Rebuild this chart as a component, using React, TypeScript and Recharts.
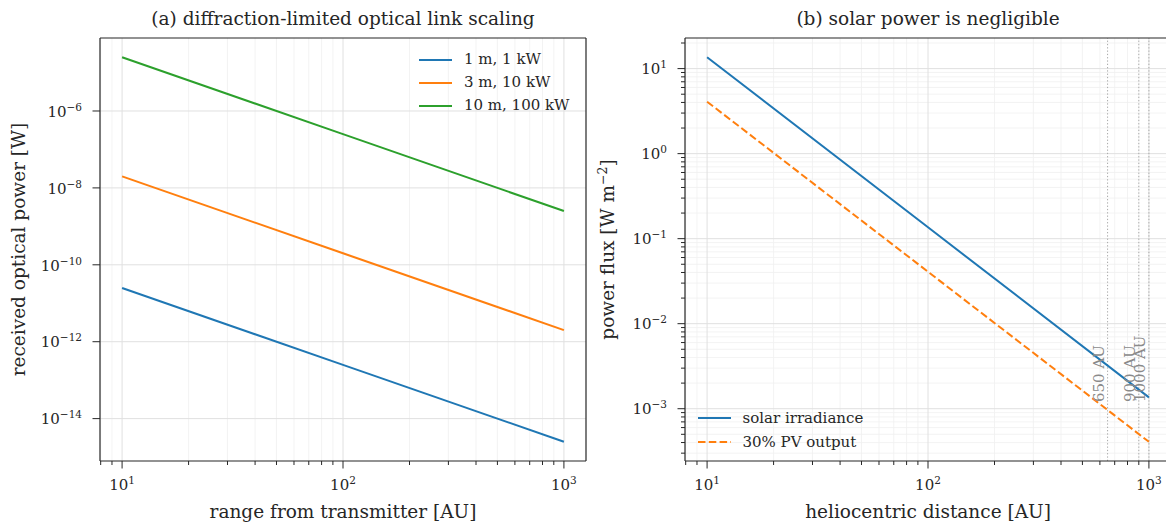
import React from 'react';
import { LineChart, Line, XAxis, YAxis, ReferenceLine, ReferenceDot, Legend, Label } from 'recharts';

const FONT = '"DejaVu Serif", serif';
const INK = '#262626';
const GRID_MAJOR = '#e0e0e0';
const GRID_MINOR = '#f0f0f0';

// ---------- panel (a): diffraction-limited optical link ----------
const linkRangeAU = [10, 100, 1000];
const link1m1kW = [2.5e-11, 2.5e-13, 2.5e-15];
const link3m10kW = [2.0e-8, 2.0e-10, 2.0e-12];
const link10m100kW = [2.5e-5, 2.5e-7, 2.5e-9];

// ---------- panel (b): solar power ----------
const helioAU = [10, 100, 1000];
const solarIrradiance = [13.6, 0.136, 0.00136];
const pvOutput = [4.08, 0.0408, 0.000408];

const markerAU = [650, 900, 1000];
const markerLabels = ['650 AU', '900 AU', '1000 AU'];
const markerLabelY = 1.2e-3;

// ---------- ticks ----------
const xMajorTicks = [10, 100, 1000];
const xMinorTicks = [8, 9, 20, 30, 40, 50, 60, 70, 80, 90, 200, 300, 400, 500, 600, 700, 800, 900];
const leftYMajorTicks = [1e-14, 1e-12, 1e-10, 1e-8, 1e-6];
const rightYMajorTicks = [1e-3, 1e-2, 1e-1, 1, 10];
const rightYMinorTicks = [
  3e-4, 4e-4, 5e-4, 6e-4, 7e-4, 8e-4, 9e-4,
  2e-3, 3e-3, 4e-3, 5e-3, 6e-3, 7e-3, 8e-3, 9e-3,
  2e-2, 3e-2, 4e-2, 5e-2, 6e-2, 7e-2, 8e-2, 9e-2,
  2e-1, 3e-1, 4e-1, 5e-1, 6e-1, 7e-1, 8e-1, 9e-1,
  2, 3, 4, 5, 6, 7, 8, 9, 20,
];

const linkSeries = [
  { key: 'p1', name: '1 m, 1 kW', color: '#1f77b4', dash: undefined as string | undefined },
  { key: 'p3', name: '3 m, 10 kW', color: '#ff7f0e', dash: undefined as string | undefined },
  { key: 'p10', name: '10 m, 100 kW', color: '#2ca02c', dash: undefined as string | undefined },
];
const solarSeries = [
  { key: 'solar', name: 'solar irradiance', color: '#1f77b4', dash: undefined as string | undefined },
  { key: 'pv', name: '30% PV output', color: '#ff7f0e', dash: '7.5 3.3' as string | undefined },
];

const linkData = linkRangeAU.map((r, i) => ({ r, p1: link1m1kW[i], p3: link3m10kW[i], p10: link10m100kW[i] }));
const solarData = helioAU.map((r, i) => ({ r, solar: solarIrradiance[i], pv: pvOutput[i] }));

const X_DOMAIN: [number, number] = [Math.pow(10, 0.9), Math.pow(10, 3.1)];
const LEFT_Y_DOMAIN: [number, number] = [Math.pow(10, -15.102), Math.pow(10, -4.102)];
const RIGHT_Y_DOMAIN: [number, number] = [Math.pow(10, -3.615), Math.pow(10, 1.36)];

function isDecade(v: number) {
  const lg = Math.log10(v);
  return Math.abs(lg - Math.round(lg)) < 1e-6;
}
function expText(v: number) {
  const e = Math.round(Math.log10(v));
  return e < 0 ? '\u2212' + String(-e) : String(e);
}

function XLogTick(props: any) {
  const { x, y, payload } = props;
  const v = payload.value;
  const major = isDecade(v);
  return (
    <g>
      <line x1={x} x2={x} y1={y} y2={y + (major ? 7.5 : 4)} stroke={INK} strokeWidth={1} />
      {major && (
        <text x={x} y={y + 29} textAnchor="middle" fontFamily={FONT} fontSize={15} fill={INK}>
          10<tspan dy={-6} fontSize={10.5}>{expText(v)}</tspan>
        </text>
      )}
    </g>
  );
}

function YLogTick(props: any) {
  const { x, y, payload } = props;
  const v = payload.value;
  const major = isDecade(v);
  return (
    <g>
      <line x1={x - (major ? 7.5 : 4)} x2={x} y1={y} y2={y} stroke={INK} strokeWidth={1} />
      {major && (
        <text x={x - 18} y={y + 5.7} textAnchor="end" fontFamily={FONT} fontSize={15} fill={INK}>
          10<tspan dy={-6} fontSize={10.5}>{expText(v)}</tspan>
        </text>
      )}
    </g>
  );
}

type Item = { name: string; color: string; dash?: string };
function LegendBox({ items, rowH }: { items: Item[]; rowH: number }) {
  return (
    <div style={{ fontFamily: FONT, fontSize: 15, color: INK }}>
      {items.map((it) => (
        <div key={it.name} style={{ display: 'flex', alignItems: 'center', height: rowH }}>
          <svg width={33} height={10} style={{ display: 'block' }}>
            <line x1={0} x2={33} y1={5} y2={5} stroke={it.color} strokeWidth={2} strokeDasharray={it.dash} />
          </svg>
          <span style={{ marginLeft: 12, whiteSpace: 'nowrap', lineHeight: 1 }}>{it.name}</span>
        </div>
      ))}
    </div>
  );
}

const titleContent = (text: string) => (props: any) => {
  const vb = props.viewBox;
  return (
    <text x={vb.x + vb.width / 2} y={vb.y - 13} textAnchor="middle" fontFamily={FONT} fontSize={18.5} fill={INK}>
      {text}
    </text>
  );
};
const xLabelContent = (text: string) => (props: any) => {
  const vb = props.viewBox;
  return (
    <text x={vb.x + vb.width / 2} y={vb.y + 57} textAnchor="middle" fontFamily={FONT} fontSize={18.5} fill={INK}>
      {text}
    </text>
  );
};
const yLabelContent = (node: React.ReactNode, baseX: number) => (props: any) => {
  const vb = props.viewBox;
  const cx = vb.x + baseX;
  const cy = vb.y + vb.height / 2;
  return (
    <text x={cx} y={cy} transform={`rotate(-90 ${cx} ${cy})`} textAnchor="middle" fontFamily={FONT} fontSize={18.5} fill={INK}>
      {node}
    </text>
  );
};

function gridLines(xMinor: number[], xMajor: number[], yMinor: number[], yMajor: number[]) {
  const out: React.ReactNode[] = [];
  xMinor.forEach((v) => out.push(<ReferenceLine key={'xm' + v} x={v} stroke={GRID_MINOR} strokeWidth={0.8} />));
  yMinor.forEach((v) => out.push(<ReferenceLine key={'ym' + v} y={v} stroke={GRID_MINOR} strokeWidth={0.8} />));
  xMajor.forEach((v) => out.push(<ReferenceLine key={'xM' + v} x={v} stroke={GRID_MAJOR} strokeWidth={1} />));
  yMajor.forEach((v) => out.push(<ReferenceLine key={'yM' + v} y={v} stroke={GRID_MAJOR} strokeWidth={1} />));
  return out;
}

function spines(xDom: [number, number], yDom: [number, number], title: string) {
  return [
    <ReferenceLine key="spTop" y={yDom[1]} ifOverflow="visible" stroke={INK} strokeWidth={1.2}
      label={titleContent(title)} />,
    <ReferenceLine key="spRight" x={xDom[1]} ifOverflow="visible" stroke={INK} strokeWidth={1.2} />,
  ];
}

const axisLineStyle = { stroke: INK, strokeWidth: 1.2 };

export default function App() {
  return (
    <div style={{ position: 'absolute', left: 0, top: 0, width: 1166, height: 523, overflow: 'hidden', background: '#fff' }}>
      <div style={{ position: 'absolute', left: 0, top: 0 }}>
        <LineChart width={600} height={523} data={linkData} margin={{ top: 38, right: 14, bottom: 0, left: 0 }}>
          <XAxis
            dataKey="r" type="number" scale="log" domain={X_DOMAIN} allowDataOverflow
            ticks={[...xMinorTicks, ...xMajorTicks]} interval={0} tick={<XLogTick />}
            tickLine={false} tickSize={0} tickMargin={0} height={62} axisLine={axisLineStyle}
          >
            <Label content={xLabelContent('range from transmitter [AU]')} />
          </XAxis>
          <YAxis
            type="number" scale="log" domain={LEFT_Y_DOMAIN} allowDataOverflow
            ticks={leftYMajorTicks} interval={0} tick={<YLogTick />}
            tickLine={false} tickSize={0} tickMargin={0} width={100} axisLine={axisLineStyle}
          >
            <Label content={yLabelContent('received optical power [W]', 25)} />
          </YAxis>
          {gridLines(xMinorTicks, xMajorTicks, [], leftYMajorTicks)}
          {spines(X_DOMAIN, LEFT_Y_DOMAIN, '(a) diffraction-limited optical link scaling')}
          {linkSeries.map((s) => (
            <Line key={s.key} type="linear" dataKey={s.key} name={s.name} stroke={s.color} strokeWidth={2}
              dot={false} activeDot={false} isAnimationActive={false} />
          ))}
          <Legend
            layout="vertical" align="center" verticalAlign="middle"
            wrapperStyle={{ left: 419, top: 48, right: 'auto', bottom: 'auto', width: 'auto' }}
            content={() => <LegendBox items={linkSeries} rowH={23} />}
          />
        </LineChart>
      </div>

      <div style={{ position: 'absolute', left: 590, top: 0 }}>
        <LineChart width={610} height={523} data={solarData} margin={{ top: 38, right: 29, bottom: 0, left: 0 }}>
          <XAxis
            dataKey="r" type="number" scale="log" domain={X_DOMAIN} allowDataOverflow
            ticks={[...xMinorTicks, ...xMajorTicks]} interval={0} tick={<XLogTick />}
            tickLine={false} tickSize={0} tickMargin={0} height={62} axisLine={axisLineStyle}
          >
            <Label content={xLabelContent('heliocentric distance [AU]')} />
          </XAxis>
          <YAxis
            type="number" scale="log" domain={RIGHT_Y_DOMAIN} allowDataOverflow
            ticks={[...rightYMinorTicks, ...rightYMajorTicks]} interval={0} tick={<YLogTick />}
            tickLine={false} tickSize={0} tickMargin={0} width={95} axisLine={axisLineStyle}
          >
            <Label
              content={yLabelContent(
                <>power flux [W m<tspan dy={-7} fontSize={12.5}>{'\u2212'}2</tspan><tspan dy={7}>]</tspan></>,
                24
              )}
            />
          </YAxis>
          {gridLines(xMinorTicks, xMajorTicks, rightYMinorTicks, rightYMajorTicks)}
          {markerAU.map((v) => (
            <ReferenceLine key={'mk' + v} x={v} stroke="#a8a8a8" strokeWidth={1} strokeDasharray="1.3 2" />
          ))}
          {spines(X_DOMAIN, RIGHT_Y_DOMAIN, '(b) solar power is negligible')}
          {solarSeries.map((s) => (
            <Line key={s.key} type="linear" dataKey={s.key} name={s.name} stroke={s.color} strokeWidth={2}
              strokeDasharray={s.dash} dot={false} activeDot={false} isAnimationActive={false} />
          ))}
          {markerAU.map((v, i) => (
            <ReferenceDot
              key={'lb' + v} x={v} y={markerLabelY} r={0}
              shape={(p: any) => {
                const tx = p.cx - 4;
                const ty = p.cy;
                return (
                  <text x={tx} y={ty} transform={`rotate(-90 ${tx} ${ty})`} textAnchor="start"
                    fontFamily={FONT} fontSize={15} fill="#8a8a8a">
                    {markerLabels[i]}
                  </text>
                );
              }}
            />
          ))}
          <Legend
            layout="vertical" align="center" verticalAlign="middle"
            wrapperStyle={{ left: 107.5, top: 406, right: 'auto', bottom: 'auto', width: 'auto' }}
            content={() => <LegendBox items={solarSeries} rowH={24} />}
          />
        </LineChart>
      </div>
    </div>
  );
}
